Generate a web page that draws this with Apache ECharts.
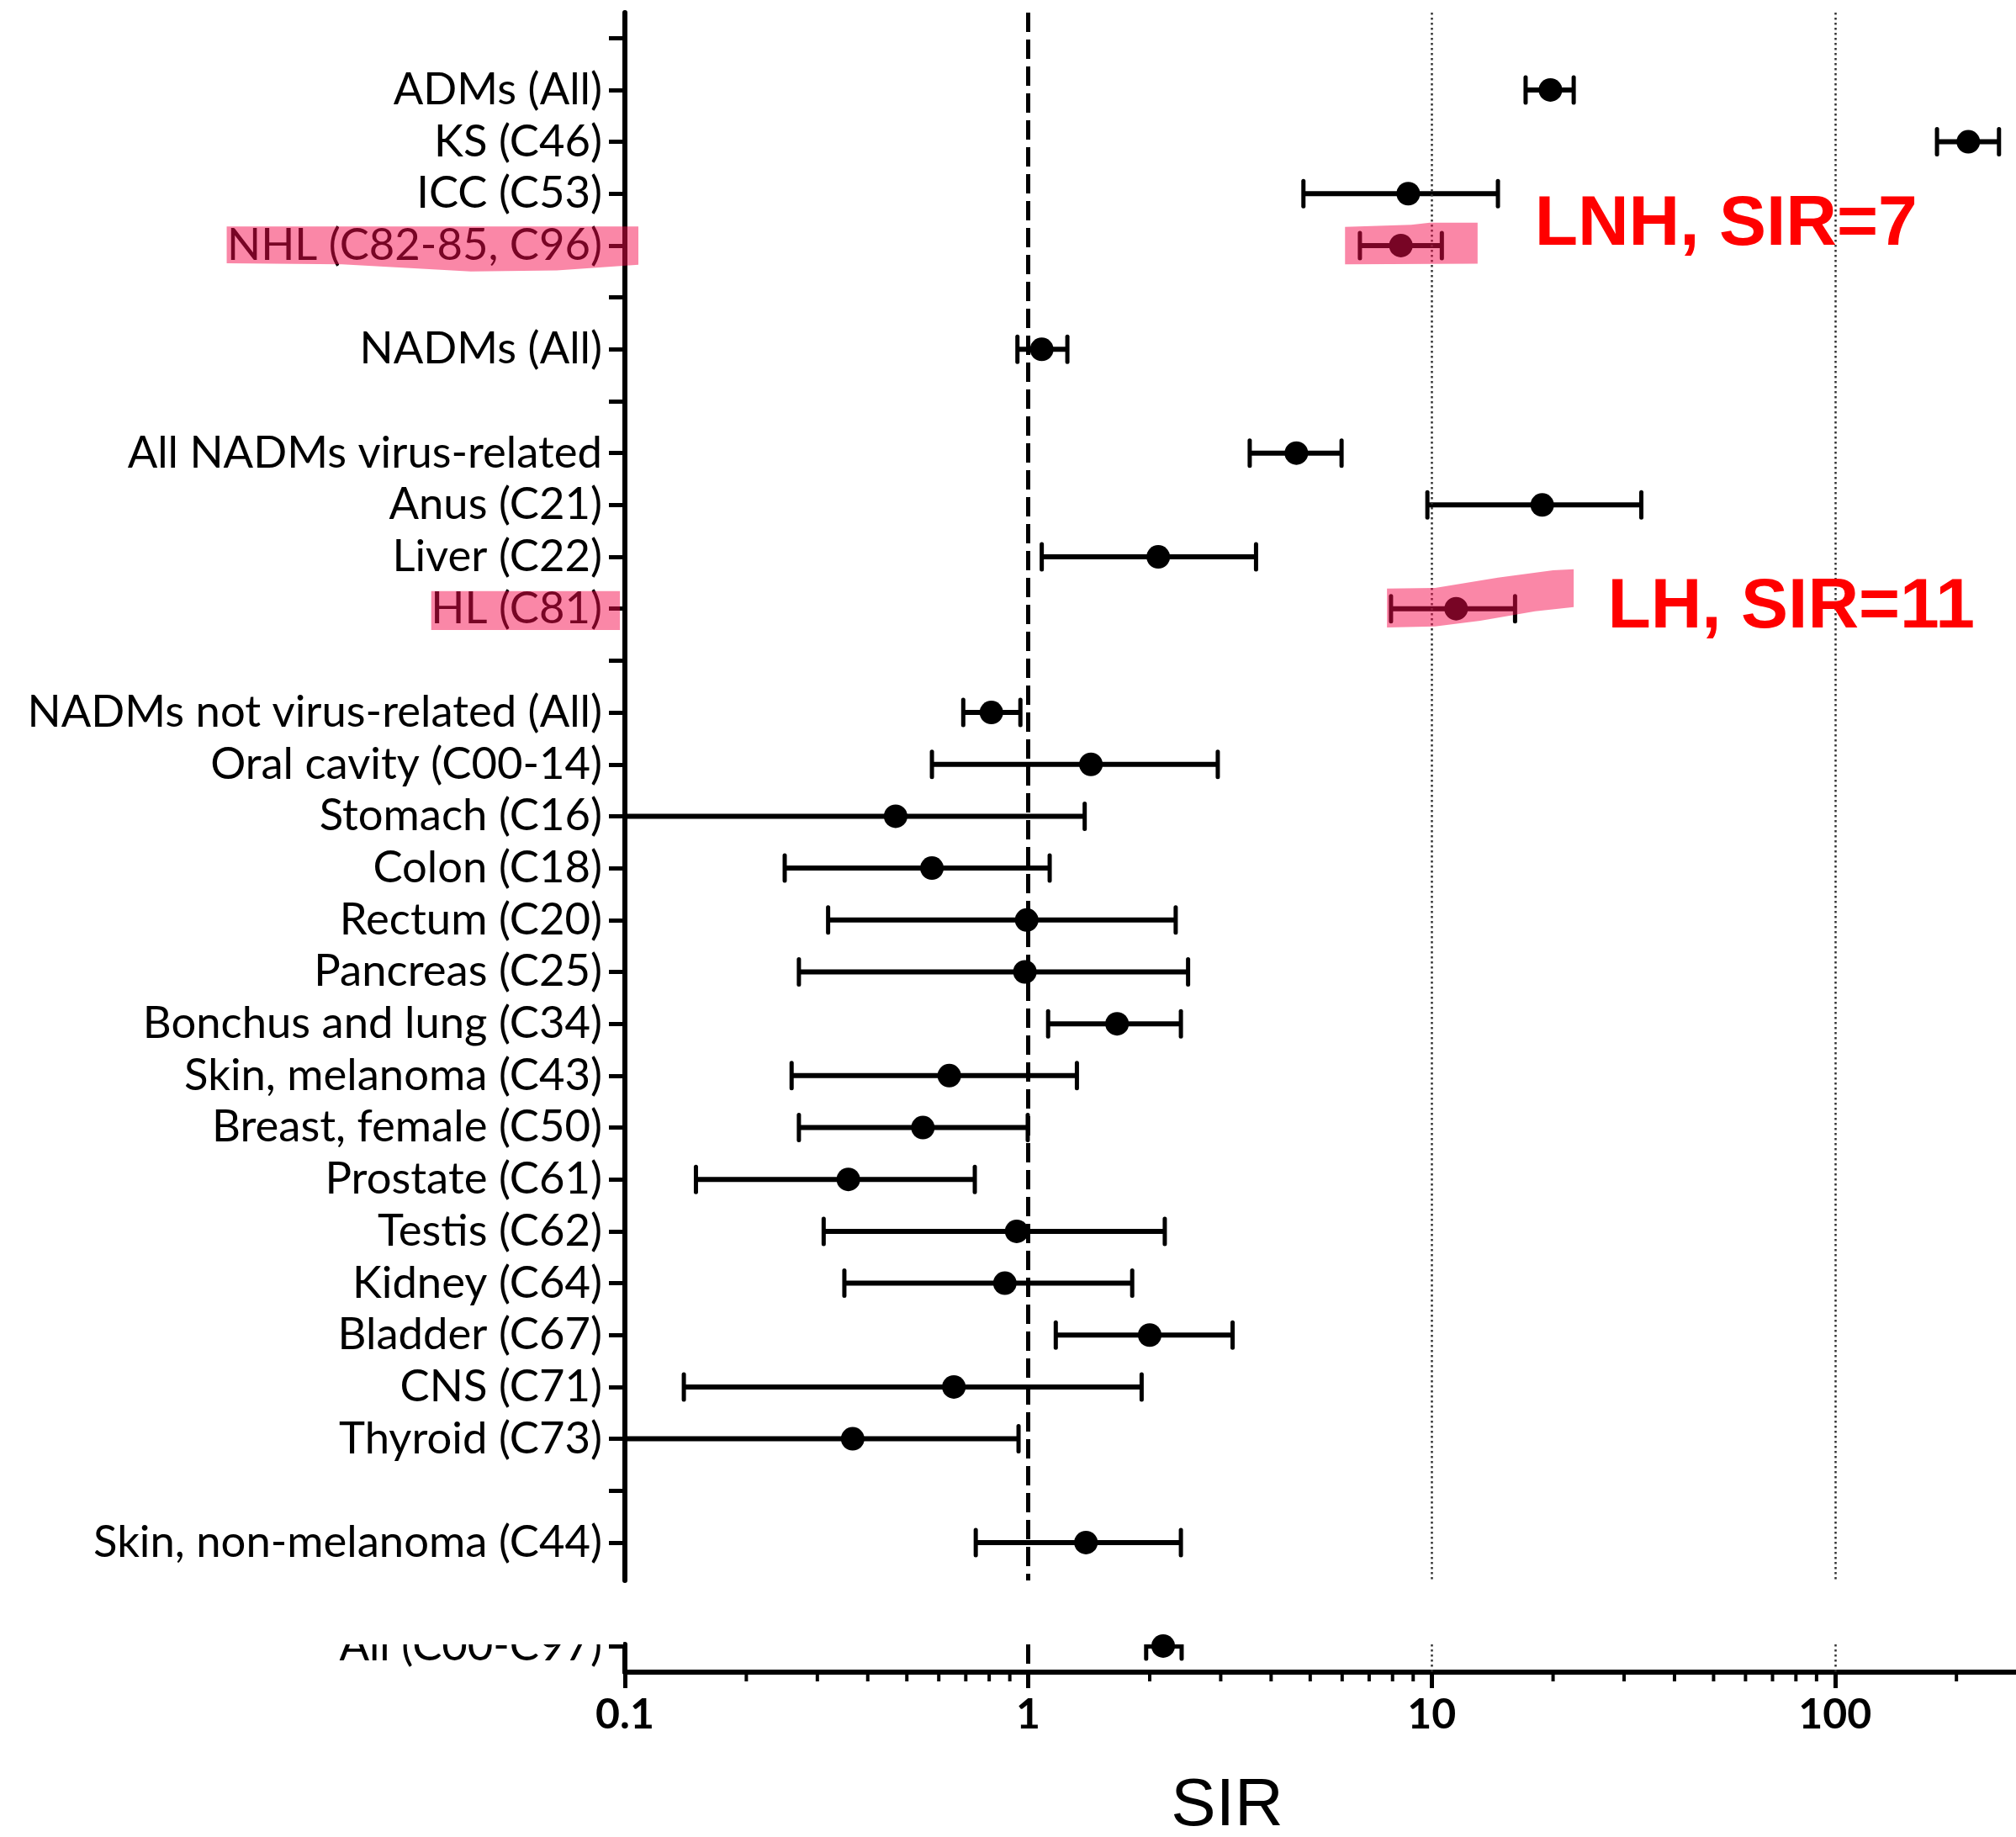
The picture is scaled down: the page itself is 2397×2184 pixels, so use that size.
<!DOCTYPE html>
<html>
<head>
<meta charset="utf-8">
<script src="https://cdn.jsdelivr.net/npm/echarts@6/dist/echarts.min.js"></script>
<style>
html, body { margin: 0; padding: 0; background: #fff; }
#chart { width: 2397px; height: 2184px; }
</style>
</head>
<body>
<div id="chart"></div>
<script>
// ---------- data ----------
const rowLabels = ['', 'ADMs (All)', 'KS (C46)', 'ICC (C53)', 'NHL (C82-85, C96)', '', 'NADMs (All)', '',
  'All NADMs virus-related', 'Anus (C21)', 'Liver (C22)', 'HL (C81)', '',
  'NADMs not virus-related (All)', 'Oral cavity (C00-14)', 'Stomach (C16)', 'Colon (C18)', 'Rectum (C20)',
  'Pancreas (C25)', 'Bonchus and lung (C34)', 'Skin, melanoma (C43)', 'Breast, female (C50)',
  'Prostate (C61)', 'Testis (C62)', 'Kidney (C64)', 'Bladder (C67)', 'CNS (C71)', 'Thyroid (C73)', '',
  'Skin, non-melanoma (C44)'];
const sirValues = [null, 19.7, 214, 8.75, 8.39, null, 1.08, null, 4.62, 18.8, 2.10, 11.5, null,
  0.81, 1.43, 0.469, 0.577, 0.991, 0.981, 1.66, 0.637, 0.548, 0.358, 0.936, 0.875, 2.00, 0.654, 0.367, null, 1.39];
const ciLower = [null, 17.1, 179, 4.81, 6.64, null, 0.94, null, 3.54, 9.76, 1.08, 7.93, null,
  0.69, 0.577, 0.05, 0.249, 0.319, 0.270, 1.12, 0.259, 0.270, 0.150, 0.311, 0.350, 1.17, 0.140, 0.05, null, 0.741];
const ciUpper = [null, 22.5, 255, 14.6, 10.6, null, 1.25, null, 5.98, 33.1, 3.67, 16.1, null,
  0.956, 2.95, 1.38, 1.13, 2.32, 2.49, 2.39, 1.32, 0.997, 0.737, 2.18, 1.81, 3.21, 1.91, 0.946, null, 2.39];

const totalLabel = ['All (C00-C97)'];
const totalSir = [2.16];
const totalLower = [1.96];
const totalUpper = [2.40];

const majorTicks = [0.1, 1, 10, 100];
const majorTickLabels = ['0.1', '1', '10', '100'];
const minorTicks = [0.2, 0.3, 0.4, 0.5, 0.6, 0.7, 0.8, 0.9, 2, 3, 4, 5, 6, 7, 8, 9,
  20, 30, 40, 50, 60, 70, 80, 90, 200];
const referenceLine = [1];
const gridLineValues = [10, 100];

const annotationTexts = ['LNH, SIR=7', 'LH, SIR=11'];
const annotationSir = [18.0, 27.3];
const annotationRow = [3.61, 10.98];

// highlighter strokes, in (SIR, row) space
const highlightShapes = [
  [[0.0103, 3.63], [0.108, 3.63], [0.108, 4.37], [0.0678, 4.48], [0.0415, 4.50], [0.0199, 4.36], [0.0103, 4.34]],
  [[6.1, 3.64], [8.9, 3.60], [9.9, 3.56], [13.0, 3.56], [13.0, 4.35], [6.1, 4.36]],
  [[0.0331, 10.66], [0.0972, 10.66], [0.0972, 11.41], [0.0331, 11.41]],
  [[7.75, 10.61], [10.2, 10.60], [14.6, 10.40], [20.0, 10.26], [22.5, 10.24], [22.5, 10.97],
   [18.05, 11.05], [13.2, 11.23], [10.2, 11.34], [7.75, 11.36]]
];

// ---------- styling ----------
const X_MIN = 0.1, X_MAX = 281;
const LOWER_Y_MIN = -0.032, LOWER_Y_MAX = 0.503;
const LABEL_FONT = 'Lato';
const mctx = document.createElement('canvas').getContext('2d');
mctx.font = '100px ' + LABEL_FONT;
const labelFontSize = Math.round(100 * 683 / mctx.measureText('NADMs not virus-related (All)').width * 10) / 10;

const rowIdx = rowLabels.map((_, i) => i);
const ciData = [], pointData = [];
rowLabels.forEach((_, i) => {
  if (sirValues[i] != null) {
    ciData.push([ciLower[i], ciUpper[i], i]);
    pointData.push([sirValues[i], i]);
  }
});
const totalCi = totalSir.map((v, i) => [totalLower[i], totalUpper[i], i]);
const totalPts = totalSir.map((v, i) => [v, i]);

function ciItem(params, api) {
  const y = api.value(2);
  const a = api.coord([api.value(0), y]);
  const b = api.coord([api.value(1), y]);
  const cap = 15;
  const ls = { stroke: '#000', lineWidth: 6 };
  const cs = { stroke: '#000', lineWidth: 5, lineCap: 'round' };
  return {
    type: 'group',
    children: [
      { type: 'line', shape: { x1: a[0], y1: a[1], x2: b[0], y2: b[1] }, style: ls },
      { type: 'line', shape: { x1: a[0], y1: a[1] - cap, x2: a[0], y2: a[1] + cap }, style: cs },
      { type: 'line', shape: { x1: b[0], y1: b[1] - cap, x2: b[0], y2: b[1] + cap }, style: cs }
    ]
  };
}

function refLines() {
  return {
    silent: true,
    symbol: ['none', 'none'],
    label: { show: false },
    animation: false,
    data: [
      ...referenceLine.map(v => ({ xAxis: v, lineStyle: { color: '#000', width: 5, type: [23, 9] } })),
      ...gridLineValues.map(v => ({ xAxis: v, lineStyle: { color: '#333', width: 2.5, type: [2.5, 3.5] } }))
    ]
  };
}

const chart = echarts.init(document.getElementById('chart'), null, { renderer: 'canvas', width: 2397, height: 2184 });

const option = {
  animation: false,
  backgroundColor: '#ffffff',
  grid: [
    { left: 743, top: 15, right: 0, height: 1864, containLabel: false, outerBoundsMode: 'none' },
    { left: 743, top: 1955, right: 0, height: 33, containLabel: false, outerBoundsMode: 'none' }
  ],
  xAxis: [
    { type: 'log', logBase: 10, gridIndex: 0, min: X_MIN, max: X_MAX, show: false },
    {
      type: 'log', logBase: 10, gridIndex: 1, min: X_MIN, max: X_MAX, position: 'bottom',
      axisLine: { show: true, onZero: false, lineStyle: { color: '#000', width: 6 } },
      axisTick: { show: true, customValues: majorTicks, length: 19, lineStyle: { color: '#000', width: 5 } },
      axisLabel: {
        show: true, customValues: majorTicks, margin: 26, color: '#000',
        fontFamily: LABEL_FONT, fontWeight: 'bold', fontSize: 50,
        formatter: v => {
          let best = 0;
          majorTicks.forEach((t, i) => { if (Math.abs(Math.log10(t) - Math.log10(v)) < Math.abs(Math.log10(majorTicks[best]) - Math.log10(v))) best = i; });
          return majorTickLabels[best];
        }
      },
      splitLine: { show: false }
    }
  ],
  yAxis: [
    {
      type: 'value', gridIndex: 0, inverse: true, min: -0.49, max: 29.73,
      axisLine: { show: true, onZero: false, lineStyle: { color: '#000', width: 6 } },
      axisTick: { show: true, customValues: rowIdx, length: 19, lineStyle: { color: '#000', width: 5 } },
      axisLabel: {
        show: true, customValues: rowIdx, margin: 27, color: '#000',
        fontFamily: LABEL_FONT, fontSize: labelFontSize,
        formatter: v => rowLabels[Math.round(v)] || ''
      },
      splitLine: { show: false }
    },
    {
      type: 'value', gridIndex: 1, inverse: true, min: LOWER_Y_MIN, max: LOWER_Y_MAX,
      axisLine: { show: true, onZero: false, lineStyle: { color: '#000', width: 6 } },
      axisTick: { show: true, customValues: [0], length: 19, lineStyle: { color: '#000', width: 5 } },
      axisLabel: {
        show: true, customValues: [0], margin: 27, color: '#000',
        fontFamily: LABEL_FONT, fontSize: labelFontSize,
        formatter: v => totalLabel[Math.round(v)] || ''
      },
      splitLine: { show: false }
    }
  ],
  graphic: [
    { type: 'rect', z: 100, shape: { x: 0, y: 1882, width: 741, height: 73 }, style: { fill: '#ffffff' } },
    { type: 'text', z: 100, x: 1459, y: 2148,
      style: { text: 'SIR', fill: '#000', font: '80px "Liberation Sans", Arial, sans-serif', align: 'center', verticalAlign: 'middle' } }
  ],
  series: [
    {
      type: 'custom', name: 'CI', xAxisIndex: 0, yAxisIndex: 0, clip: true, z: 3,
      encode: { x: [0, 1], y: 2 }, renderItem: ciItem, data: ciData, silent: true
    },
    {
      type: 'scatter', name: 'SIR', xAxisIndex: 0, yAxisIndex: 0, clip: true, z: 4,
      symbol: 'circle', symbolSize: 28, itemStyle: { color: '#000', opacity: 1 }, data: pointData, silent: true,
      markLine: refLines()
    },
    {
      type: 'custom', name: 'CI total', xAxisIndex: 1, yAxisIndex: 1, clip: true, z: 3,
      encode: { x: [0, 1], y: 2 }, renderItem: ciItem, data: totalCi, silent: true
    },
    {
      type: 'scatter', name: 'SIR total', xAxisIndex: 1, yAxisIndex: 1, clip: true, z: 4,
      symbol: 'circle', symbolSize: 28, itemStyle: { color: '#000', opacity: 1 }, data: totalPts, silent: true,
      markLine: refLines()
    },
    {
      // minor log ticks on the x axis, placed through the axis scale
      type: 'custom', name: 'minor ticks', xAxisIndex: 1, yAxisIndex: 1, clip: false, z: 5, silent: true,
      encode: { x: 0, y: 1 },
      data: minorTicks.map(v => [v, LOWER_Y_MAX]),
      renderItem: (params, api) => {
        const p = api.coord([api.value(0), api.value(1)]);
        return { type: 'line', shape: { x1: p[0], y1: p[1], x2: p[0], y2: p[1] + 11 },
                 style: { stroke: '#000', lineWidth: 4 } };
      }
    },
    {
      type: 'custom', name: 'highlight', xAxisIndex: 0, yAxisIndex: 0, clip: false, z: 20, silent: true,
      encode: { x: 0, y: 1 },
      data: highlightShapes.map((_, i) => [1, 1, i]),
      renderItem: (params, api) => {
        const pts = highlightShapes[api.value(2)].map(p => api.coord(p));
        return { type: 'polygon', shape: { points: pts }, style: { fill: 'rgba(245,10,75,0.49)' } };
      }
    },
    {
      type: 'custom', name: 'annotations', xAxisIndex: 0, yAxisIndex: 0, clip: false, z: 30, silent: true,
      encode: { x: 0, y: 1 },
      data: annotationTexts.map((t, i) => [annotationSir[i], annotationRow[i], i]),
      renderItem: (params, api) => {
        const p = api.coord([api.value(0), api.value(1)]);
        return {
          type: 'text', x: p[0], y: p[1],
          style: { text: annotationTexts[api.value(2)], fill: '#ff0000',
                   font: 'bold 84px "Liberation Sans", Arial, sans-serif', align: 'left', verticalAlign: 'middle' }
        };
      }
    }
  ]
};
chart.setOption(option);
</script>
</body>
</html>
